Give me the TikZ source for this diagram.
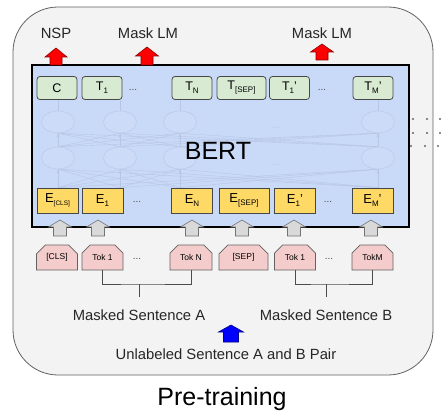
\documentclass[tikz,border=0pt]{standalone}
\usepackage{fontspec}
\setmainfont{Liberation Sans}
\usetikzlibrary{shapes.misc,shapes.geometric}

\definecolor{panelfill}{HTML}{F3F3F3}
\definecolor{bertblue}{HTML}{C9DAF8}
\definecolor{hidfill}{HTML}{CCDCF8}
\definecolor{hidline}{HTML}{B6C6E4}
\definecolor{tgreen}{HTML}{D9EAD3}
\definecolor{eyellow}{HTML}{FFD966}
\definecolor{tokpink}{HTML}{F4CCCC}

\newcommand\lowsub[2][8]{\raisebox{-0.45ex}{\fontsize{#1}{#1}\selectfont #2}}
% block arrow pointing up: style, x, tip y, foot y, half head, half shaft, head length
\newcommand\blockup[7]{%
  \draw[#1] (#2,#3) -- ++(#5,#7) -- ++(-#5+#6,0) -- (#2+#6,#4) -- (#2-#6,#4)
    -- (#2-#6,#3+#7) -- (#2-#5,#3+#7) -- cycle;}

\tikzset{
  panel/.style={draw=black!62,fill=panelfill,rounded corners=45pt,line width=0.8pt},
  bertbox/.style={draw=black,fill=bertblue,line width=1.8pt},
  hid/.style={ellipse,draw=hidline,fill=hidfill,minimum width=33pt,minimum height=22pt,inner sep=0pt},
  hidwire/.style={draw=hidline,line width=0.4pt},
  tbox/.style={draw=black!72,fill=tgreen,rounded corners=3pt,line width=0.8pt,
    minimum width=40pt,minimum height=23pt,inner sep=0pt,font=\fontsize{12.5}{12.5}\selectfont},
  ebox/.style={draw=black!72,fill=eyellow,line width=0.7pt,
    minimum width=41pt,minimum height=25pt,inner sep=0pt,font=\fontsize{13}{13}\selectfont},
  tokbox/.style={chamfered rectangle,chamfered rectangle corners={north west,north east},
    chamfered rectangle xsep=5.5pt,chamfered rectangle ysep=5pt,
    draw=black!62,fill=tokpink,line width=0.7pt,
    minimum width=41pt,minimum height=25pt,inner sep=0pt,font=\fontsize{8.5}{8.5}\selectfont},
  gapdots/.style={text=black!70,font=\fontsize{10}{10}\selectfont},
  redup/.style={draw=red!55!black,fill=red,line width=0.6pt,line join=miter},
  grayup/.style={draw=black!55,fill=black!15,line width=0.6pt},
  blueup/.style={draw=blue!55!black,fill=blue,line width=0.6pt},
  bracket/.style={draw=black!70,line width=0.6pt},
  caption/.style={anchor=base,text=black!85,font=\fontsize{14.8}{14.8}\selectfont},
}

\begin{document}
\begin{tikzpicture}[x=1pt,y=-1pt]
  \useasboundingbox (0,0) rectangle (448,412);
  \draw[panel] (13,7) rectangle (433,375);
  % dots of the next panel
  \foreach \y/\s in {119/0,133/0,146/-2}
    \foreach \x in {413,427,440}
      \fill[black!60] (\x+\s,\y) circle (1.1pt);

  % BERT block
  \draw[bertbox] (32,65) rectangle (409,227);
  \foreach \n/\x in {a/58,b/120,c/180,d/378}{
    \node[hid] (u\n) at (\x,122) {};
    \node[hid] (l\n) at (\x,158) {};
  }
  \node[gapdots,text=hidline] (hdu) at (275,128) {...};
  \node[gapdots,text=hidline] (hdl) at (275,165) {...};

  % output tokens
  \node[tbox] (tC) at (57,88) {C};
  \node[tbox] (t1) at (102,88) {T\lowsub{1}};
  \node[gapdots] (tdA) at (133,90) {...};
  \node[tbox] (tN) at (192,88) {T\lowsub{N}};
  \node[tbox,minimum width=49pt] (tS) at (241.5,88) {T\lowsub{[SEP]}};
  \node[tbox] (t1b) at (289.5,88) {T\lowsub{1}'};
  \node[gapdots] (tdB) at (322,90) {...};
  \node[tbox] (tM) at (373,88) {T\lowsub{M}'};

  % input embeddings
  \node[ebox] (eC) at (57.5,200.5) {E\lowsub[6.5]{[CLS]}};
  \node[ebox] (e1) at (102.5,200.5) {E\lowsub{1}};
  \node[gapdots] (edA) at (137,202) {...};
  \node[ebox] (eN) at (192,200.5) {E\lowsub{N}};
  \node[ebox,minimum width=50pt] (eS) at (244,200.5) {E\lowsub{[SEP]}};
  \node[ebox] (e1b) at (295,200.5) {E\lowsub{1}'};
  \node[gapdots] (edB) at (328,202) {...};
  \node[ebox] (eM) at (372.5,200.5) {E\lowsub{M}'};

  % wires of the hidden layers
  \foreach \n in {a,b,c,d}{
    \draw[hidwire] (u\n.north) -- (u\n.north |- tC.south);
    \draw[hidwire,-latex] (l\n.north) -- (u\n.south);
    \draw[hidwire,-latex] (l\n.south |- eC.north) -- (l\n.south);
    \foreach \m in {a,b,c,d}{
      \draw[hidwire] (l\m.north) -- (u\n.south);
      \draw[hidwire] (l\m.south |- eC.north) -- (l\n.south);
    }
  }
  \node[font=\fontsize{25}{25}\selectfont,anchor=base] (bert) at (218,160) {BERT};

  % input tokens
  \node[tokbox] (kC) at (57,257.5) {[CLS]};
  \node[tokbox] (k1) at (102.5,257.5) {Tok 1};
  \node[gapdots] (kdA) at (137,259) {...};
  \node[tokbox,minimum width=42pt] (kN) at (191,257.5) {Tok N};
  \node[tokbox,minimum width=49pt] (kS) at (243.5,257.5) {[SEP]};
  \node[tokbox] (k1b) at (295,257.5) {Tok 1};
  \node[gapdots] (kdB) at (329,259) {...};
  \node[tokbox] (kM) at (372.5,257.5) {TokM};

  % embedding arrows
  \foreach \x in {60,98,192,242,294,371}{
    \blockup{grayup}{\x}{220}{236}{11.5}{6.5}{7}
  }

  % output heads
  \blockup{redup}{56}{48}{65}{11}{6}{9}
  \blockup{redup}{147}{47}{65}{11.5}{6}{9}
  \blockup{redup}{322}{44}{60}{11.5}{6}{8}
  \node[caption] (nsp) at (56,39) {NSP};
  \node[caption] (mlmA) at (148,39) {Mask LM};
  \node[caption] (mlmB) at (322,39) {Mask LM};

  % sentence brackets
  \coordinate (jA) at (139,284);
  \coordinate (sA) at (139,297);
  \coordinate (jB) at (326,284);
  \coordinate (sB) at (326,297);
  \draw[bracket] (k1.south) |- (jA) -| (kN.south);
  \draw[bracket] (jA) -- (sA);
  \draw[bracket] (k1b.south) |- (jB) -| (kM.south);
  \draw[bracket] (jB) -- (sB);
  \node[caption] (sentA) at (139,320.5) {Masked Sentence A};
  \node[caption] (sentB) at (326,320.5) {Masked Sentence B};

  \blockup{blueup}{231}{325}{342}{12.5}{7.5}{7}
  \node[caption] (pair) at (226,359) {Unlabeled Sentence A and B Pair};

  \node[anchor=base,font=\fontsize{25}{25}\selectfont] (title) at (222,405) {Pre-training};
\end{tikzpicture}
\end{document}
